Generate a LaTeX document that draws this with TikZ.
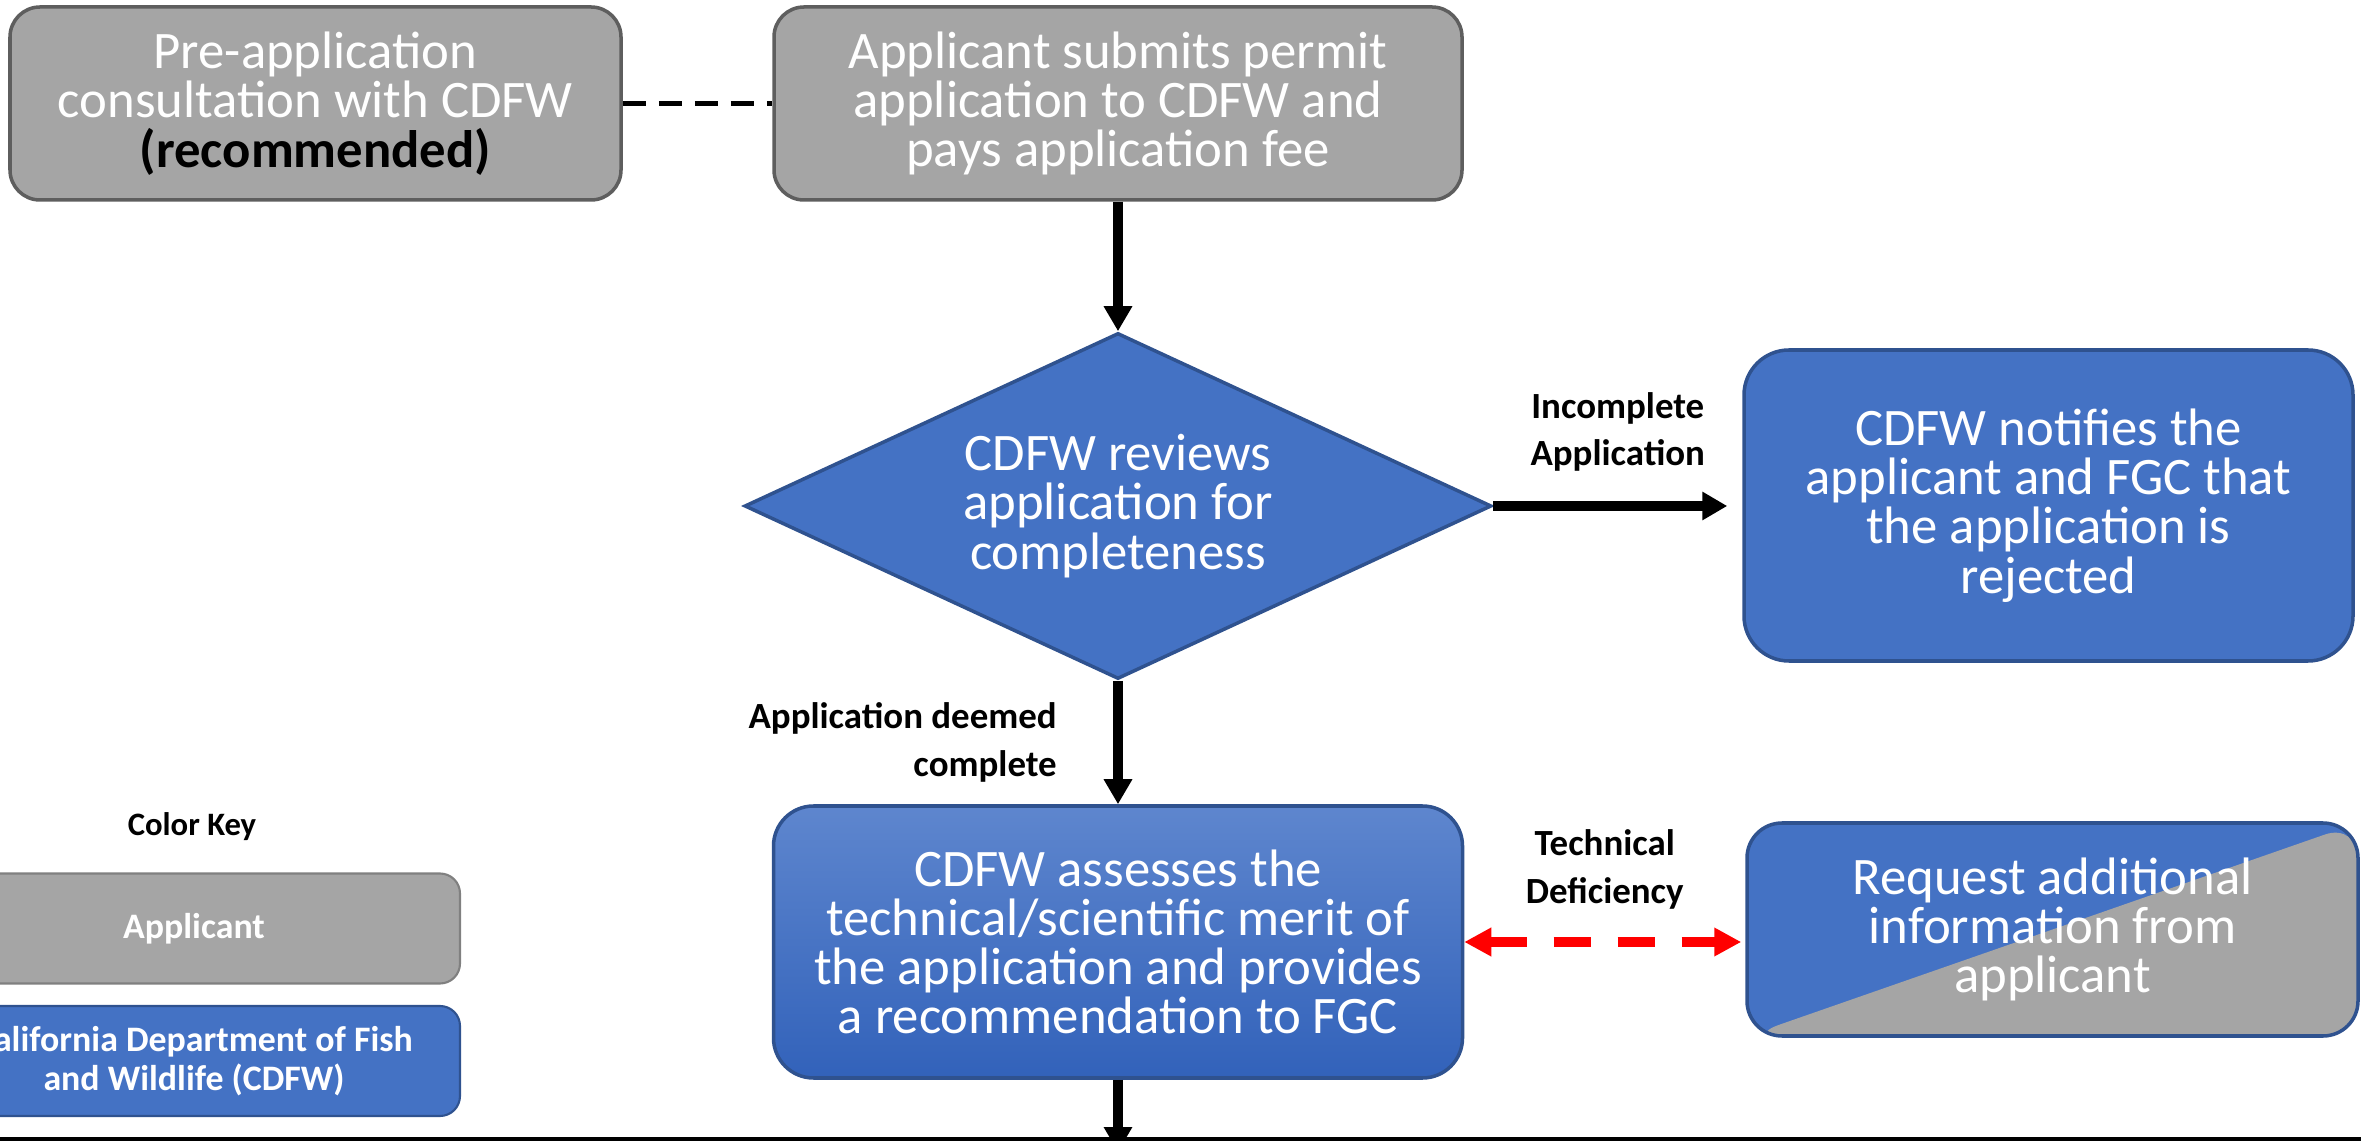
\documentclass[tikz,border=0pt]{standalone}
\usepackage{fontspec}
\setmainfont{Carlito}
\usepackage{xcolor}
\usetikzlibrary{shapes.geometric,arrows.meta,positioning}

\definecolor{cdfwblue}{HTML}{4472C4}
\definecolor{cdfwline}{HTML}{2F528F}
\definecolor{cdfwtop}{HTML}{5E86CE}
\definecolor{cdfwbot}{HTML}{3262BA}
\definecolor{appgray}{HTML}{A5A5A5}
\definecolor{appline}{HTML}{5E5E5E}
\definecolor{keyline}{HTML}{808080}
\definecolor{techred}{HTML}{FF0000}

\begin{document}
\begin{tikzpicture}[
    box/.style={rounded corners=0.3cm, line width=1pt, align=center, text=white,
        inner sep=0pt, font=\fontsize{15}{14}\selectfont},
    appbox/.style={box, fill=appgray, draw=appline},
    cdfwbox/.style={box, fill=cdfwblue, draw=cdfwline},
    decision/.style={diamond, aspect=2.16, fill=cdfwblue, draw=cdfwline, line width=1pt, inner sep=0pt,
        align=center, text=white, font=\fontsize{15}{14}\selectfont},
    keybox/.style={rounded corners=0.2cm, line width=0.6pt, align=center, text=white,
        minimum width=5.32cm, minimum height=1.1cm, font=\fontsize{10.2}{11.3}\selectfont\bfseries},
    lbl/.style={font=\fontsize{10.5}{13.6}\selectfont\bfseries, align=center},
    flow/.style={line width=2.6pt, -{Triangle[length=0.25cm, width=0.27cm]}},
]
    \useasboundingbox (0,0) rectangle (23.61,-11.41);

    % Top row
    \node[appbox, minimum width=6.11cm, minimum height=1.93cm] (preapp) at (3.155,-1.035)
        {Pre-application\\consultation with CDFW\\\textcolor{black}{\bfseries (recommended)}};
    \node[appbox, minimum width=6.88cm, minimum height=1.93cm] (submit) at (11.18,-1.035)
        {Applicant submits permit\\application to CDFW and\\pays application fee};
    \draw[line width=1.3pt, dash pattern=on 0.23cm off 0.13cm] (preapp) -- (submit);

    % Completeness check
    \node[decision, minimum width=7.47cm, minimum height=3.46cm] (review) at (11.18,-5.06)
        {CDFW reviews\\application for\\completeness};
    \node[cdfwbox, rounded corners=0.45cm, minimum width=6.09cm, minimum height=3.11cm] (reject) at (20.485,-5.055)
        {CDFW notifies the\\applicant and FGC that\\the application is\\rejected};
    \draw[flow] (submit) -- (review);
    \draw[flow, shorten >=0.15cm] (review.east) -- (review.east -| reject.west)
        node[lbl, midway, above=0.18cm] {Incomplete\\Application};

    % Technical review
    \node[box, rounded corners=0.4cm, top color=cdfwtop, bottom color=cdfwbot, draw=cdfwline,
        minimum width=6.89cm, minimum height=2.72cm] (assess) at (11.18,-9.42)
        {CDFW assesses the\\technical/scientific merit of\\the application and provides\\a recommendation to FGC};
    \node[box, rounded corners=0.35cm, draw=cdfwline, minimum width=6.11cm, minimum height=2.13cm,
        path picture={
            \fill[cdfwblue] (path picture bounding box.south west) rectangle (path picture bounding box.north east);
            \fill[appgray] (path picture bounding box.south west) -- (path picture bounding box.north east)
                -- (path picture bounding box.south east) -- cycle;
        }] (request) at (20.525,-9.295)
        {Request additional\\information from\\applicant};
    \draw[flow] (review) -- (assess)
        node[lbl, midway, left=0.45cm, align=right] {Application deemed\\complete};
    \draw[techred, line width=2.8pt, dash pattern=on 0.37cm off 0.27cm,
        {Triangle[length=0.27cm, width=0.27cm]}-{Triangle[length=0.27cm, width=0.27cm]}, shorten >=0.04cm]
        (assess.east) -- (assess.east -| request.west)
        node[lbl, text=black, midway, above=0.16cm] {Technical\\Deficiency};

    % Next step, off the page
    \coordinate (next) at (11.18,-11.52);
    \draw[flow] (assess) -- (next);
    \draw[line width=1.1pt] (0,-11.39) -- (23.61,-11.39);

    % Color key
    \node[keybox, fill=appgray, draw=keyline] (keyapp) at (1.94,-9.285) {Applicant};
    \node[keybox, fill=cdfwblue, draw=cdfwline] (keycdfw) at (1.94,-10.61)
        {California Department of Fish\\and Wildlife (CDFW)};
    \node[font=\fontsize{9.3}{11}\selectfont\bfseries] (keytitle) at (1.92,-8.27) {Color Key};
\end{tikzpicture}
\end{document}
